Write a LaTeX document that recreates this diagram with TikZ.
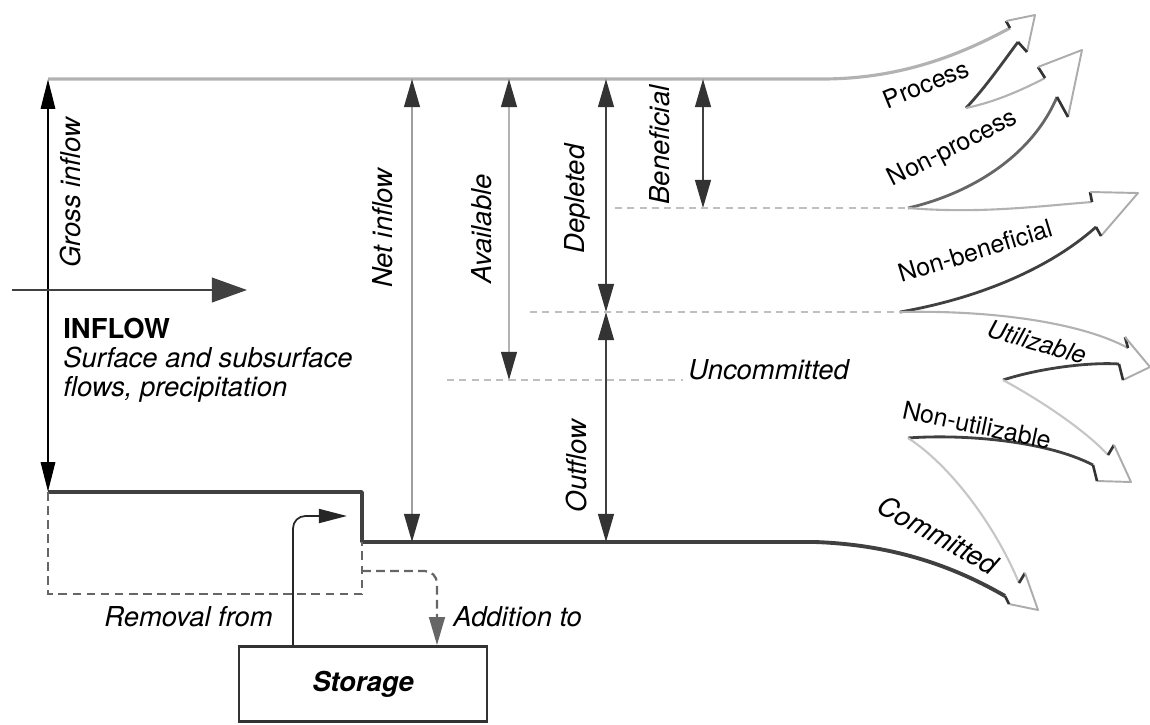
\documentclass[tikz,border=0pt]{standalone}
\usepackage{fontspec}
\setmainfont{TeX Gyre Heros}
\usetikzlibrary{arrows.meta}

\newcommand{\flowhead}[5]{%
  \draw[barb] #1 -- #2;
  \draw[headline] #2 -- #3 -- #4;
  \draw[barb] #4 -- #5;
}

\begin{document}
\begin{tikzpicture}[x=0.02cm, y=-0.02cm,
  lbl/.style={font=\fontsize{15.6}{16.5}\selectfont\itshape, inner sep=0pt},
  arrlbl/.style={font=\fontsize{14.2}{16}\selectfont, inner sep=0pt},
  measure/.style={<->, line width=1.1pt, black!75, >={Triangle[length=16pt,width=9pt,color=black!80]}},
  level/.style={gray!50, line width=1.4pt, dash pattern=on 4pt off 3pt},
  upper/.style={gray!60, line width=1.2pt, line join=round},
  lower/.style={black!75, line width=1.6pt, line join=round},
  barb/.style={black!80, line width=1.5pt},
  headline/.style={gray!65, line width=1.1pt, line join=round}]

\useasboundingbox (0,0) rectangle (1150,724);

\coordinate (TL) at (48,79);
\coordinate (TR) at (822,79);
\coordinate (BL) at (48,492);
\coordinate (S1) at (362,492);
\coordinate (S2) at (362,542);
\coordinate (BR) at (815,542);
\coordinate (D1) at (48,594);
\coordinate (D2) at (362,594);
\coordinate (A0) at (362,571);
\coordinate (R1) at (347,516);
\coordinate (InL) at (12,290);
\coordinate (InR) at (247,290);

\coordinate (NetT) at (412,79);
\coordinate (NetB) at (412,542);
\coordinate (AvT) at (509,79);
\coordinate (AvB) at (509,380);
\coordinate (DeT) at (606,79);
\coordinate (DeB) at (606,312);
\coordinate (OuB) at (606,542);
\coordinate (BeT) at (703,79);
\coordinate (BeB) at (703,208);

\coordinate (LBs) at (615,208);
\coordinate (LBe) at (908,208);
\coordinate (LDs) at (530,312);
\coordinate (LDe) at (900,312);
\coordinate (LUs) at (447,380);
\coordinate (LUe) at (683,380);

\coordinate (V1) at (966,108);
\coordinate (V2) at (1003,380);
\coordinate (V3) at (908,438);

\node[draw, black!80, line width=1.6pt, minimum width=4.96cm, minimum height=1.5cm,
  font=\fontsize{15.6}{16.5}\selectfont\bfseries\itshape, text=black] (storage) at (363,684) {Storage};

\draw[gray!60, line width=1.8pt, line join=round] (TL) -- (TR) .. controls (900,79) and (960,55) .. (1010,28);
\draw[lower, line width=2.2pt] (BL) -- (S1) -- (S2) -- (BR) .. controls (900,545) and (960,570) .. (1005,596);

\draw[measure, black, line width=1.7pt, >={Triangle[length=17pt,width=8pt]}] (TL) -- (BL);
\draw[measure, gray!75, line width=1pt] (NetT) -- (NetB);
\draw[measure, gray!60, line width=1pt] (AvT) -- (AvB);
\draw[measure] (DeT) -- (DeB);
\draw[measure] (DeB) -- (OuB);
\draw[measure] (BeT) -- (BeB);
\draw[-{Triangle[length=20pt,width=14pt]}, black!75, line width=1.3pt] (InL) -- (InR);

\draw[level] (LBs) -- (LBe);
\draw[level] (LDs) -- (LDe);
\draw[level] (LUs) -- (LUe);

\draw[lower] (V1) .. controls (985,88) and (1003,62) .. (1018,42);
\flowhead{(1010,28)}{(1006,21)}{(1035,15)}{(1027,52)}{(1018,42)}

\draw[upper] (V1) .. controls (995,102) and (1022,90) .. (1045,78);
\draw[lower, black!60] (LBe) .. controls (965,195) and (1030,160) .. (1057,97);
\flowhead{(1045,78)}{(1038,67)}{(1082,50)}{(1068,117)}{(1057,97)}

\draw[upper] (LBe) .. controls (980,214) and (1040,206) .. (1092,202);
\draw[lower] (LDe) .. controls (980,298) and (1050,268) .. (1096,227);
\flowhead{(1092,202)}{(1090,192)}{(1138,193)}{(1101,236)}{(1096,227)}

\draw[upper] (LDe) .. controls (990,310) and (1080,322) .. (1128,348);
\draw[lower] (V2) .. controls (1040,368) and (1090,362) .. (1119,364);
\flowhead{(1128,348)}{(1125,337)}{(1150,367)}{(1123,380)}{(1119,364)}

\draw[upper, gray!45] (V2) .. controls (1040,400) and (1085,430) .. (1108,455);
\draw[lower] (V3) .. controls (960,434) and (1045,440) .. (1093,465);
\flowhead{(1108,455)}{(1114,445)}{(1131,482)}{(1097,481)}{(1093,465)}

\draw[upper, gray!45] (V3) .. controls (950,465) and (995,525) .. (1019,583);
\flowhead{(1019,583)}{(1025,573)}{(1038,610)}{(1009,604)}{(1005,596)}

\draw[black!60, line width=1.3pt, dash pattern=on 5pt off 3pt] (BL) -- (D1) -- (D2) -- (S2);
\draw[black!60, line width=1.3pt, dash pattern=on 5pt off 3pt, rounded corners=7pt,
  -{Triangle[length=16pt,width=9pt]}] (A0) -| ([xshift=1.48cm]storage.north);
\draw[black!85, line width=1pt, rounded corners=7pt,
  -{Triangle[length=16pt,width=8pt]}] ([xshift=-1.4cm]storage.north) |- (R1);

\node[lbl, rotate=90] (gross) at (71,193) {Gross inflow};
\node[lbl, rotate=90] (net) at (383,228) {Net inflow};
\node[lbl, rotate=90] (avail) at (482,229) {Available};
\node[lbl, rotate=90] (depl) at (577,199) {Depleted};
\node[lbl, rotate=90] (benef) at (660,145) {Beneficial};
\node[lbl, rotate=90] (outfl) at (577,466) {Outflow};
\node[lbl, anchor=west] (uncom) at (688,370) {Uncommitted};
\node[lbl, anchor=east] (removal) at (273,617) {Removal from};
\node[lbl, anchor=west] (addition) at (453,617) {Addition to};
\node[lbl, anchor=north west, align=left] (inflow) at (63,318)
  {{\upshape\bfseries INFLOW}\\Surface and subsurface\\flows, precipitation};

\node[arrlbl, rotate=22] (process) at (926,84) {Process};
\node[arrlbl, rotate=27] (nonproc) at (953,149) {Non-process};
\node[arrlbl, rotate=17] (nonben) at (975,251) {Non-beneficial};
\node[arrlbl, rotate=-16, font=\fontsize{14.2}{16}\selectfont\itshape] (util) at (1037,342) {Utilizable};
\node[arrlbl, rotate=-12] (nonutil) at (977,425) {Non-utilizable};
\node[lbl, rotate=-29] (commit) at (938,535) {Committed};

\end{tikzpicture}
\end{document}
